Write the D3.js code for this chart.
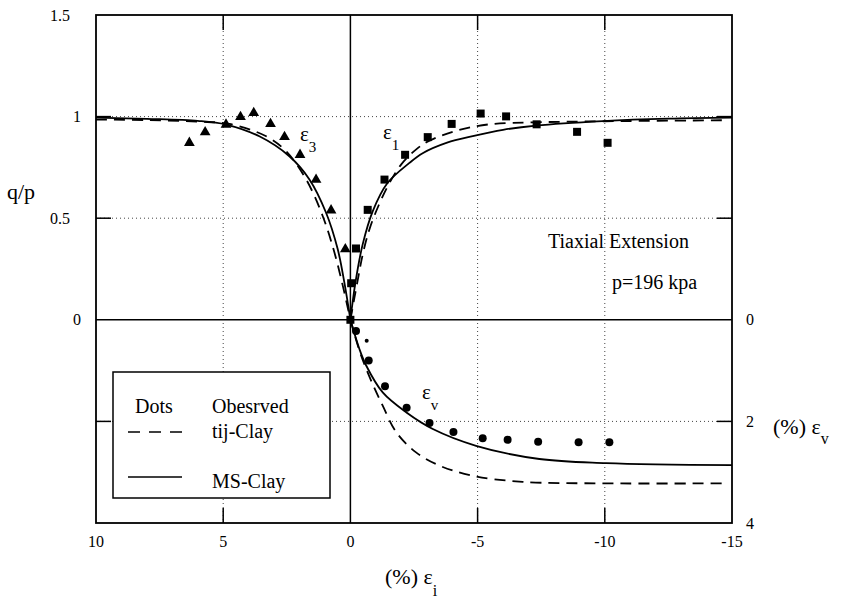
<!DOCTYPE html>
<html>
<head>
<meta charset="utf-8">
<title>q/p - strain, triaxial extension</title>
<script src="https://d3js.org/d3.v7.min.js"></script>
<style>
  body { margin: 0; background: #fff; }
  svg { display: block; }
  text { font-family: "Liberation Serif", "Times New Roman", serif; fill: #000; }
</style>
</head>
<body>
<svg id="chart" width="841" height="600"></svg>
<script>
// ticks
const xTicks = [10, 5, 0, -5, -10, -15];
const qTicks = [0, 0.5, 1, 1.5];
const evTicks = [0, 2, 4];

// observed points [strain %, q/p] / [strain %, ev %]
const obsE3 = [[6.33,0.871],[5.71,0.923],[4.89,0.961],[4.32,0.998],[3.80,1.018],[3.14,0.964],
  [2.59,0.900],[1.98,0.812],[1.35,0.690],[0.76,0.539],[0.20,0.348]];
const obsE1 = [[0,0],[-0.03,0.18],[-0.22,0.351],[-0.68,0.541],[-1.34,0.690],[-2.15,0.812],
  [-3.04,0.899],[-3.98,0.964],[-5.12,1.015],[-6.12,1.001],[-7.32,0.962],[-8.91,0.925],[-10.11,0.871]];
const obsEv = [[-0.22,0.22],[-0.72,0.80],[-1.36,1.31],[-2.21,1.73],[-3.11,2.03],[-4.05,2.21],
  [-5.20,2.33],[-6.18,2.36],[-7.38,2.40],[-8.97,2.41],[-10.18,2.41]];
const obsEvSmall = [[-0.64,0.41]];

// MS-Clay (solid)
const msE3 = [[10,0.995],[8,0.989],[6,0.979],[4.89,0.961],[3.58,0.903],[2.40,0.805],[1.61,0.691],
  [0.96,0.528],[0.50,0.348],[0.24,0.185],[0,0]];
const msE1 = [[0,0],[-0.2,0.185],[-0.48,0.37],[-0.88,0.535],[-1.45,0.672],[-2.32,0.772],[-2.84,0.82],
  [-3.8,0.872],[-4.81,0.904],[-6,0.935],[-7.3,0.956],[-9.92,0.978],[-12.5,0.99],[-15,0.995]];
const msEv = [[0,0],[-0.35,0.57],[-0.62,0.90],[-1.27,1.43],[-2.19,1.82],[-3.24,2.15],[-4.94,2.48],
  [-7.43,2.74],[-10.05,2.82],[-15,2.86]];

// tij-Clay (dashed)
const tijE3 = [[10,0.985],[8,0.983],[6,0.975],[4.76,0.964],[3.31,0.903],[2.53,0.830],[1.74,0.691],
  [1.09,0.511],[0.63,0.332],[0.30,0.168],[0,0]];
const tijE1 = [[0,0],[-0.28,0.19],[-0.5,0.33],[-0.75,0.446],[-1.1,0.56],[-1.5,0.665],[-2.0,0.765],
  [-2.6,0.84],[-3.11,0.882],[-4.16,0.93],[-5.46,0.962],[-7.3,0.972],[-10,0.977],[-14.6,0.982]];
const tijEv = [[0,0],[-0.35,0.6],[-0.65,1.0],[-0.95,1.35],[-1.27,1.69],[-1.80,2.21],[-2.58,2.61],
  [-3.50,2.87],[-4.81,3.07],[-6.77,3.19],[-10.05,3.22],[-14.6,3.22]];

const pL = 96, pR = 732, pT = 15, pB = 523;
const svg = d3.select("#chart");

const x = d3.scaleLinear().domain([10, -15]).range([pL, pR]);
const yQ = d3.scaleLinear().domain([-1, 1.5]).range([pB, pT]);
const yE = d3.scaleLinear().domain([0, 4]).range([yQ(0), pB]);

// dotted grid
const grid = svg.append("g").attr("stroke", "#444").attr("stroke-width", 1).attr("stroke-dasharray", "1,3");
grid.selectAll(".gx").data([5, -5, -10]).enter().append("line")
  .attr("x1", d => x(d)).attr("x2", d => x(d)).attr("y1", pT).attr("y2", pB);
grid.selectAll(".gq").data([0.5, 1]).enter().append("line")
  .attr("x1", pL).attr("x2", pR).attr("y1", d => yQ(d)).attr("y2", d => yQ(d));
grid.append("line").attr("x1", pL).attr("x2", pR).attr("y1", yE(2)).attr("y2", yE(2));

// zero lines
svg.append("line").attr("x1", pL).attr("x2", pR).attr("y1", yQ(0)).attr("y2", yQ(0))
  .attr("stroke", "#000").attr("stroke-width", 1.5);
svg.append("line").attr("x1", x(0)).attr("x2", x(0)).attr("y1", pT).attr("y2", pB)
  .attr("stroke", "#000").attr("stroke-width", 1.5);

// curves
const lineQ = d3.line().x(d => x(d[0])).y(d => yQ(d[1])).curve(d3.curveCatmullRom.alpha(0.5));
const lineE = d3.line().x(d => x(d[0])).y(d => yE(d[1])).curve(d3.curveCatmullRom.alpha(0.5));

const curves = svg.append("g").attr("fill", "none").attr("stroke", "#000").attr("stroke-width", 1.8);
[msE3, msE1].forEach(c => curves.append("path").attr("d", lineQ(c)));
curves.append("path").attr("d", lineE(msEv));
[tijE3, tijE1].forEach(c => curves.append("path").attr("d", lineQ(c)).attr("stroke-dasharray", "11,7"));
curves.append("path").attr("d", lineE(tijEv)).attr("stroke-dasharray", "11,7");

// observed markers
svg.append("g").selectAll("path").data(obsE3).enter().append("path")
  .attr("d", d3.symbol().type(d3.symbolTriangle).size(50))
  .attr("transform", d => `translate(${x(d[0])},${yQ(d[1])})`);
svg.append("g").selectAll("path").data(obsE1).enter().append("path")
  .attr("d", d3.symbol().type(d3.symbolSquare).size(64))
  .attr("transform", d => `translate(${x(d[0])},${yQ(d[1])})`);
svg.append("g").selectAll("circle").data(obsEv).enter().append("circle")
  .attr("cx", d => x(d[0])).attr("cy", d => yE(d[1])).attr("r", 4);
svg.append("g").selectAll("circle").data(obsEvSmall).enter().append("circle")
  .attr("cx", d => x(d[0])).attr("cy", d => yE(d[1])).attr("r", 2);

// frame
svg.append("rect").attr("x", pL).attr("y", pT).attr("width", pR - pL).attr("height", pB - pT)
  .attr("fill", "none").attr("stroke", "#000").attr("stroke-width", 1.8);

// inward ticks
const tk = svg.append("g").attr("stroke", "#000").attr("stroke-width", 1.5);
[5, -5, -10].forEach(v => {
  tk.append("line").attr("x1", x(v)).attr("x2", x(v)).attr("y1", pB).attr("y2", pB - 15);
  tk.append("line").attr("x1", x(v)).attr("x2", x(v)).attr("y1", pT).attr("y2", pT + 15);
});
[yQ(0.5), yQ(1), yE(2)].forEach(y => {
  tk.append("line").attr("x1", pL).attr("x2", pL + 15).attr("y1", y).attr("y2", y);
  tk.append("line").attr("x1", pR - 15).attr("x2", pR).attr("y1", y).attr("y2", y);
});

// tick labels
svg.append("g").selectAll("text").data(xTicks).enter().append("text")
  .attr("x", d => x(d)).attr("y", 547).attr("text-anchor", "middle")
  .attr("font-size", 16).text(d => d);
svg.append("g").selectAll("text").data(qTicks).enter().append("text")
  .attr("x", d => (d % 1 ? 70 : 81)).attr("y", d => yQ(d)).attr("dy", "0.35em")
  .attr("text-anchor", "end").attr("font-size", 16).text(d => d);
svg.append("g").selectAll("text").data(evTicks).enter().append("text")
  .attr("x", 746).attr("y", d => yE(d)).attr("dy", "0.35em")
  .attr("font-size", 16).text(d => d);

// axis titles
svg.append("text").attr("x", 7).attr("y", 199).attr("font-size", 22).text("q/p");

const xt = svg.append("text").attr("x", 385).attr("y", 584).attr("font-size", 22);
xt.append("tspan").text("(%) ε");
xt.append("tspan").attr("font-size", 16).attr("dy", 12).text("i");

const et = svg.append("text").attr("x", 773).attr("y", 434).attr("font-size", 22);
et.append("tspan").text("(%) ε");
et.append("tspan").attr("font-size", 16).attr("dy", 10).text("v");

// curve labels
function epsLabel(px, py, sub) {
  const t = svg.append("text").attr("x", px).attr("y", py).attr("font-size", 21);
  t.append("tspan").text("ε");
  t.append("tspan").attr("font-size", 15).attr("dy", 11).text(sub);
}
epsLabel(300, 141, "3");
epsLabel(383, 139, "1");
epsLabel(422, 399, "v");

svg.append("text").attr("x", 548).attr("y", 248).attr("font-size", 20).text("Tiaxial Extension");
svg.append("text").attr("x", 612).attr("y", 289).attr("font-size", 20).text("p=196 kpa");

// legend
const lg = svg.append("g");
lg.append("rect").attr("x", 113).attr("y", 372).attr("width", 217).attr("height", 126)
  .attr("fill", "#fff").attr("stroke", "#000").attr("stroke-width", 1.5);
lg.append("text").attr("x", 135).attr("y", 413).attr("font-size", 20).text("Dots");
lg.append("text").attr("x", 212).attr("y", 413).attr("font-size", 20).text("Obesrved");
lg.append("line").attr("x1", 128).attr("x2", 182).attr("y1", 432).attr("y2", 432)
  .attr("stroke", "#000").attr("stroke-width", 1.5).attr("stroke-dasharray", "12,9");
lg.append("text").attr("x", 212).attr("y", 438).attr("font-size", 20).text("tij-Clay");
lg.append("line").attr("x1", 128).attr("x2", 182).attr("y1", 477).attr("y2", 477)
  .attr("stroke", "#000").attr("stroke-width", 1.5);
lg.append("text").attr("x", 212).attr("y", 488).attr("font-size", 20).text("MS-Clay");
</script>
</body>
</html>
